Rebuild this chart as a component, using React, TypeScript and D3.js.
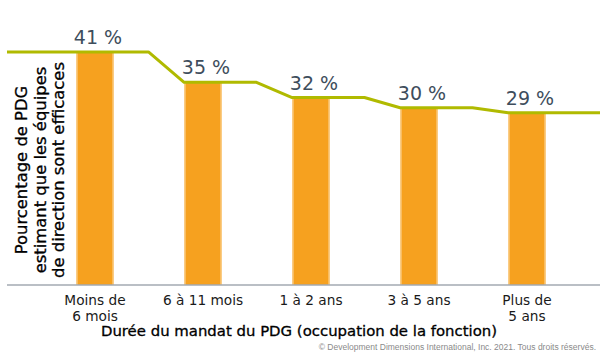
import React from "react";
import * as d3 from "d3";

const categories: string[][] = [
  ["Moins de", "6 mois"],
  ["6 à 11 mois"],
  ["1 à 2 ans"],
  ["3 à 5 ans"],
  ["Plus de", "5 ans"],
];
const values: number[] = [41, 35, 32, 30, 29];
const yTitleLines: string[] = [
  "Pourcentage de PDG",
  "estimant que les équipes",
  "de direction sont efficaces",
];
const xTitle = "Durée du mandat du PDG (occupation de la fonction)";
const copyright =
  "© Development Dimensions International, Inc. 2021. Tous droits réservés.";

const W = 600;
const H = 363;

export default function App() {
  const keys = categories.map((c) => c.join(" "));
  const x = d3
    .scaleBand<string>()
    .domain(keys)
    .range([41, 581])
    .paddingInner(0.65)
    .paddingOuter(0.325);
  const y = d3.scaleLinear().domain([-5, 45]).range([285, 31.7]);
  const bw = x.bandwidth();
  const step = x.step();

  const pts: [number, number][] = [];
  values.forEach((v, i) => {
    const left = x(keys[i])!;
    const yy = y(v);
    pts.push([i === 0 ? 7 : left, yy]);
    if (i < values.length - 1) {
      const nextLeft = x(keys[i + 1])!;
      pts.push([nextLeft - step * 0.33, yy]);
    } else {
      pts.push([W, yy]);
    }
  });
  const line = d3.line()(pts) || "";

  const font = "'DejaVu Sans', sans-serif";

  return (
    <svg
      width={W}
      height={H}
      style={{ position: "absolute", left: 0, top: 0, background: "#fff" }}
      fontFamily={font}
    >
      {values.map((v, i) => (
        <g key={i}>
          <rect x={x(keys[i])!} y={y(v)} width={bw} height={y(-5) - y(v)} fill="#F6A11F" />
          <rect x={x(keys[i])!} y={y(v)} width={1.5} height={y(-5) - y(v)} fill="#FBD08E" />
          <rect x={x(keys[i])! + bw - 1.5} y={y(v)} width={1.5} height={y(-5) - y(v)} fill="#FBD08E" />
        </g>
      ))}
      <line x1={7} x2={W} y1={285} y2={285} stroke="#A3AAB2" strokeWidth={1.5} />
      <path d={line} fill="none" stroke="#B0BA00" strokeWidth={3} strokeLinejoin="round" />
      {values.map((v, i) => (
        <text
          key={i}
          x={x(keys[i])! + bw / 2 + 3}
          y={y(v) - 8}
          textAnchor="middle"
          fontSize={19}
          fill="#3E4D5C"
        >
          {v} %
        </text>
      ))}
      {categories.map((c, i) => (
        <text
          key={i}
          x={x(keys[i])! + bw / 2}
          y={305}
          textAnchor="middle"
          fontSize={13.7}
          fill="#1a1a1a"
        >
          {c.map((l, j) => (
            <tspan key={j} x={x(keys[i])! + bw / 2} dy={j === 0 ? 0 : 15.5}>
              {l}
            </tspan>
          ))}
        </text>
      ))}
      <text
        x={299}
        y={336}
        textAnchor="middle"
        fontSize={14.9}
        fill="#000"
        stroke="#000"
        strokeWidth={0.3}
      >
        {xTitle}
      </text>
      <text
        transform="translate(27,170) rotate(-90)"
        textAnchor="middle"
        fontSize={16.4}
        fill="#000"
        stroke="#000"
        strokeWidth={0.3}
      >
        {yTitleLines.map((l, j) => (
          <tspan key={j} x={0} dy={j === 0 ? 0 : 18.5}>
            {l}
          </tspan>
        ))}
      </text>
      <text
        x={596}
        y={350}
        textAnchor="end"
        fontSize={8.5}
        fill="#8a8a8a"
        fontFamily="'Liberation Sans', Arial, sans-serif"
      >
        {copyright}
      </text>
    </svg>
  );
}
